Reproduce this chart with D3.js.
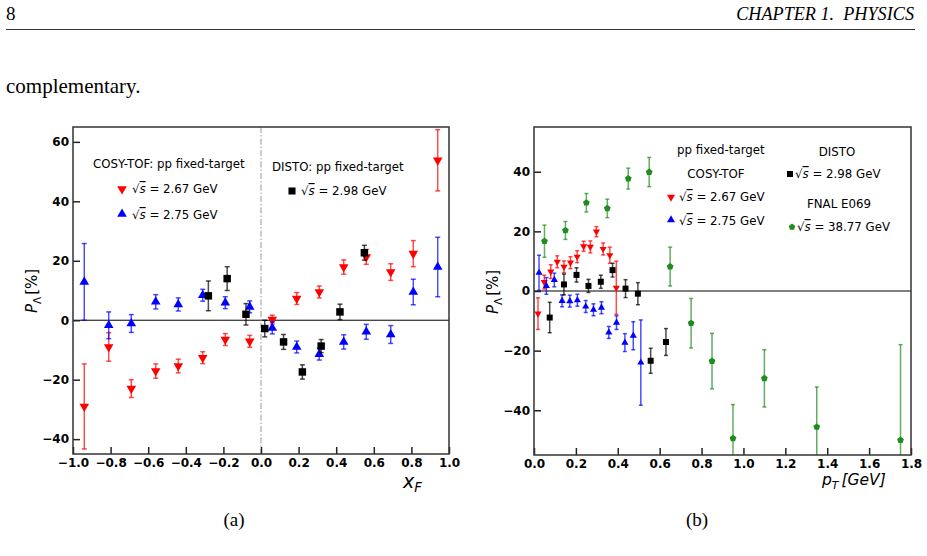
<!DOCTYPE html>
<html>
<head>
<meta charset="utf-8">
<script src="https://cdn.jsdelivr.net/npm/d3@7"></script>
<style>
  body { margin: 0; background: #fff; }
  svg { display: block; }
  text { font-family: "DejaVu Sans", sans-serif; fill: #000; }
  .serif { font-family: "Liberation Serif", "Times New Roman", serif; }
  .tick text { font-weight: bold; font-size: 12px; }
</style>
</head>
<body>
<div id="chart"></div>
<script>
// ---- panel (a): P_Lambda vs x_F ----
const xfTicks = [-1.0, -0.8, -0.6, -0.4, -0.2, 0.0, 0.2, 0.4, 0.6, 0.8, 1.0];
const polTicksA = [-40, -20, 0, 20, 40, 60];

const xfCosy = [-0.94, -0.81, -0.69, -0.56, -0.44, -0.31, -0.19, -0.06, 0.06, 0.19, 0.31, 0.44, 0.56, 0.69, 0.81, 0.94];
const polXfCosy267 = [-29, -9, -23, -17.1, -15.4, -12.6, -6.5, -7.1, 0.2, 7.3, 9.5, 17.9, 21.3, 16.2, 22.4, 53.8];
const errXfCosy267 = [14.3, 4.8, 3, 2.4, 2.3, 2, 2, 2, 1.5, 2, 2, 2.4, 2.5, 2.8, 4.4, 10.3];
const polXfCosy275 = [12.9, -1.7, -1.1, 6.2, 5.3, 8.4, 5.9, 4.5, -2.6, -9.0, -11.4, -7.3, -3.9, -4.8, 9.5, 17.9];
const errXfCosy275 = [12.9, 4.5, 3, 2.4, 2.2, 2, 2, 2, 2, 2, 2, 2.4, 2.5, 3, 4.3, 10];

const xfDisto = [-0.28, -0.18, -0.08, 0.02, 0.12, 0.22, 0.32, 0.42, 0.55];
const polXfDisto = [8.2, 14.0, 2.0, -2.8, -7.3, -17.4, -8.7, 2.8, 22.7];
const errXfDisto = [5, 4, 3.6, 2.8, 2.5, 2.4, 2.2, 2.6, 2.5];

// ---- panel (b): P_Lambda vs p_T ----
const ptTicks = [0.0, 0.2, 0.4, 0.6, 0.8, 1.0, 1.2, 1.4, 1.6, 1.8];
const polTicksB = [-40, -20, 0, 20, 40];

const ptCosy267 = [0.019, 0.049, 0.080, 0.111, 0.143, 0.174, 0.206, 0.237, 0.269, 0.298, 0.330, 0.362, 0.393];
const polPtCosy267 = [-7.6, 3.0, 6.5, 9.8, 8.1, 9.5, 11.5, 15.0, 14.8, 19.9, 14.1, 12.0, 1.1];
const errPtCosy267 = [5.3, 2.3, 2.3, 2, 2, 2, 2, 1.7, 2, 1.7, 2, 2.7, 8.9];

const ptCosy275 = [0.024, 0.059, 0.097, 0.134, 0.171, 0.207, 0.247, 0.284, 0.322, 0.357, 0.394, 0.434, 0.474, 0.51];
const polPtCosy275 = [6.1, 1.7, 3.7, -3.3, -3.4, -3.1, -5.2, -6.3, -5.6, -13.9, -10.6, -17.3, -15.0, -24.0];
const errPtCosy275 = [5.9, 2.8, 2.3, 2, 2, 2, 2, 2, 2, 2, 2.3, 3, 4.7, 14.3];

const ptDisto = [0.075, 0.143, 0.203, 0.26, 0.319, 0.375, 0.437, 0.496, 0.557, 0.63];
const polPtDisto = [-8.9, 2.2, 5.4, 1.7, 3.1, 7.0, 0.8, -0.9, -23.4, -17.1];
const errPtDisto = [5.1, 3.5, 2.4, 2.2, 2.2, 2.3, 3, 3.7, 4.2, 4.5];

const ptE069 = [0.05, 0.15, 0.25, 0.35, 0.45, 0.55, 0.65, 0.75, 0.85, 0.95, 1.10, 1.35, 1.75];
const polPtE069 = [16.7, 20.3, 29.6, 27.7, 37.7, 39.9, 8.2, -10.8, -23.5, -49.4, -29.3, -45.6, -50.0];
const errPtE069 = [5.4, 3, 3.1, 3.1, 3.5, 4.9, 6.5, 8.3, 9.3, 11.3, 9.6, 13.4, 32];

const red = '#ff0000', blue = '#0000ff', black = '#000000', green = '#1f8c1f';

// matplotlib-like pentagon marker
const symbolPentagon = {
  draw(ctx, size) {
    const r = Math.sqrt(size / 2.378);
    for (let i = 0; i < 5; i++) {
      const a = -Math.PI / 2 + i * 2 * Math.PI / 5;
      const px = r * Math.cos(a), py = r * Math.sin(a);
      if (i === 0) ctx.moveTo(px, py); else ctx.lineTo(px, py);
    }
    ctx.closePath();
  }
};

const zip = (xs, ys, es) => xs.map((x, i) => ({ x, y: ys[i], e: es[i] }));

const svg = d3.select('#chart').append('svg')
  .attr('width', 927)
  .attr('height', 556);

svg.append('rect').attr('width', 927).attr('height', 556).attr('fill', '#fff');

// page text around the figure
svg.append('text').attr('class', 'serif').attr('x', 6).attr('y', 20)
  .style('font-size', '19px').text('8');
svg.append('text').attr('class', 'serif').attr('x', 914).attr('y', 20)
  .attr('text-anchor', 'end').style('font-size', '18.2px').style('font-style', 'italic')
  .style('white-space', 'pre').text('CHAPTER 1.  PHYSICS');
svg.append('line').attr('x1', 6).attr('x2', 915).attr('y1', 29.5).attr('y2', 29.5)
  .attr('stroke', '#000').attr('stroke-width', 0.8);
svg.append('text').attr('class', 'serif').attr('x', 6).attr('y', 93)
  .style('font-size', '21px').text('complementary.');
svg.append('text').attr('class', 'serif').attr('x', 234).attr('y', 526)
  .attr('text-anchor', 'middle').style('font-size', '19px').text('(a)');
svg.append('text').attr('class', 'serif').attr('x', 697).attr('y', 526)
  .attr('text-anchor', 'middle').style('font-size', '19px').text('(b)');

function sqrtS(sel, value) {
  sel.append('tspan').text('√');
  sel.append('tspan').style('font-style', 'italic').style('text-decoration', 'overline').text('s');
  sel.append('tspan').text(` = ${value} GeV`);
}

function drawPanel(cfg) {
  const { left, right, top, bottom } = cfg;
  const x = d3.scaleLinear().domain(cfg.xDomain).range([left, right]);
  const y = d3.scaleLinear().domain(cfg.yDomain).range([bottom, top]);
  const g = svg.append('g');

  const clipId = 'clip-' + cfg.name;
  svg.append('clipPath').attr('id', clipId)
    .append('rect').attr('x', left).attr('y', top).attr('width', right - left).attr('height', bottom - top);

  const plot = g.append('g').attr('clip-path', `url(#${clipId})`);

  // reference lines
  plot.append('line')
    .attr('x1', left).attr('x2', right).attr('y1', y(0)).attr('y2', y(0))
    .attr('stroke', '#000').attr('stroke-width', 1);
  if (cfg.zeroVertical) {
    plot.append('line')
      .attr('x1', x(0)).attr('x2', x(0)).attr('y1', top).attr('y2', bottom)
      .attr('stroke', '#aaa').attr('stroke-width', 1.2)
      .attr('stroke-dasharray', '6,2,1.5,2');
  }

  // series
  cfg.series.forEach(s => {
    const sg = plot.append('g');
    const cap = cfg.cap;
    const eb = sg.selectAll('g.eb').data(s.data).join('g')
      .attr('stroke', s.color).attr('stroke-opacity', 0.7).attr('stroke-width', 1.5);
    eb.append('line')
      .attr('x1', d => x(d.x)).attr('x2', d => x(d.x))
      .attr('y1', d => y(d.y - d.e)).attr('y2', d => y(d.y + d.e));
    eb.append('line')
      .attr('x1', d => x(d.x) - cap).attr('x2', d => x(d.x) + cap)
      .attr('y1', d => y(d.y + d.e)).attr('y2', d => y(d.y + d.e));
    eb.append('line')
      .attr('x1', d => x(d.x) - cap).attr('x2', d => x(d.x) + cap)
      .attr('y1', d => y(d.y - d.e)).attr('y2', d => y(d.y - d.e));

    const sym = d3.symbol().type(s.type).size(s.size);
    sg.selectAll('path.mk').data(s.data).join('path')
      .attr('d', sym)
      .attr('fill', s.color)
      .attr('transform', d => `translate(${x(d.x)},${y(d.y)})${s.rotate ? ' rotate(180)' : ''}`);
  });

  // axes with inward ticks
  const xAxis = g.append('g').attr('transform', `translate(0,${bottom})`)
    .call(d3.axisBottom(x).tickValues(cfg.xTicks).tickFormat(d3.format('.1f'))
      .tickSizeInner(-7).tickSizeOuter(0).tickPadding(4));
  const yAxis = g.append('g').attr('transform', `translate(${left},0)`)
    .call(d3.axisLeft(y).tickValues(cfg.yTicks).tickFormat(d3.format('d'))
      .tickSizeInner(-7).tickSizeOuter(0).tickPadding(4));
  [xAxis, yAxis].forEach(a => {
    a.select('.domain').remove();
    a.selectAll('.tick line').attr('stroke', '#222').attr('stroke-width', 1.5);
    a.selectAll('.tick text').attr('fill', '#000');
  });

  // frame
  g.append('rect')
    .attr('x', left).attr('y', top).attr('width', right - left).attr('height', bottom - top)
    .attr('fill', 'none').attr('stroke', '#333').attr('stroke-width', 1.5);

  // axis labels
  const xl = g.append('text').attr('x', cfg.xLabelX).attr('y', cfg.xLabelY)
    .style('font-size', cfg.xLabelSize).style('font-style', 'italic');
  xl.append('tspan').text(cfg.xLabel[0]);
  xl.append('tspan').attr('dy', 4).style('font-size', '0.7em').text(cfg.xLabel[1]);
  if (cfg.xLabel[2]) xl.append('tspan').attr('dy', -4).attr('dx', 3).text(cfg.xLabel[2]);

  const yl = g.append('text')
    .attr('transform', `translate(${cfg.yLabelX},${cfg.yLabelY}) rotate(-90)`)
    .attr('text-anchor', 'middle').style('font-size', '15px');
  yl.append('tspan').style('font-style', 'italic').text('P');
  yl.append('tspan').attr('dy', 4).style('font-size', '0.7em').text('Λ');
  yl.append('tspan').attr('dy', -4).attr('dx', 2).text('[%]');

  return { g, symbols: cfg.series };
}

const seriesA = [
  { data: zip(xfCosy, polXfCosy267, errXfCosy267), color: red, type: d3.symbolTriangle, size: 40, rotate: true },
  { data: zip(xfCosy, polXfCosy275, errXfCosy275), color: blue, type: d3.symbolTriangle, size: 40 },
  { data: zip(xfDisto, polXfDisto, errXfDisto), color: black, type: d3.symbolSquare, size: 56 }
];
const panelA = drawPanel({
  name: 'a', left: 73, right: 449, top: 127, bottom: 454,
  xDomain: [-1, 1], yDomain: [-45, 65], xTicks: xfTicks, yTicks: polTicksA,
  zeroVertical: true, cap: 2.5, series: seriesA,
  xLabel: ['x', 'F'], xLabelX: 403, xLabelY: 488, xLabelSize: '19px', yLabelX: 37, yLabelY: 291
});

const seriesB = [
  { data: zip(ptE069, polPtE069, errPtE069), color: green, type: symbolPentagon, size: 30 },
  { data: zip(ptCosy267, polPtCosy267, errPtCosy267), color: red, type: d3.symbolTriangle, size: 22, rotate: true },
  { data: zip(ptCosy275, polPtCosy275, errPtCosy275), color: blue, type: d3.symbolTriangle, size: 22 },
  { data: zip(ptDisto, polPtDisto, errPtDisto), color: black, type: d3.symbolSquare, size: 36 }
];
const panelB = drawPanel({
  name: 'b', left: 534, right: 911, top: 127, bottom: 455,
  xDomain: [0, 1.8], yDomain: [-55, 55], xTicks: ptTicks, yTicks: polTicksB,
  zeroVertical: false, cap: 2, series: seriesB,
  xLabel: ['p', 'T', '[GeV]'], xLabelX: 822, xLabelY: 485, xLabelSize: '15.5px', yLabelX: 498, yLabelY: 292
});

// legends
function marker(g, type, size, color, cx, cy, rotate) {
  g.append('path').attr('d', d3.symbol().type(type).size(size)())
    .attr('fill', color)
    .attr('transform', `translate(${cx},${cy})${rotate ? ' rotate(180)' : ''}`);
}
function label(g, x, y, anchor) {
  return g.append('text').attr('x', x).attr('y', y).attr('text-anchor', anchor || 'start')
    .style('font-size', '11.8px');
}

const la = panelA.g;
label(la, 93, 168).text('COSY-TOF: pp fixed-target');
marker(la, d3.symbolTriangle, 40, red, 122, 189, true);
label(la, 132, 193).call(sqrtS, '2.67');
marker(la, d3.symbolTriangle, 40, blue, 122, 214);
label(la, 132, 219).call(sqrtS, '2.75');
label(la, 272, 171).text('DISTO: pp fixed-target');
marker(la, d3.symbolSquare, 50, black, 292, 191);
label(la, 301, 195).call(sqrtS, '2.98');

const lb = panelB.g;
label(lb, 677, 154).text('pp fixed-target');
label(lb, 716, 178, 'middle').text('COSY-TOF');
marker(lb, d3.symbolTriangle, 28, red, 671, 197, true);
label(lb, 679, 201).call(sqrtS, '2.67');
marker(lb, d3.symbolTriangle, 28, blue, 671, 220);
label(lb, 679, 225).call(sqrtS, '2.75');
label(lb, 837, 156, 'middle').text('DISTO');
marker(lb, d3.symbolSquare, 36, black, 790, 174);
label(lb, 795, 178).call(sqrtS, '2.98');
label(lb, 839, 208, 'middle').text('FNAL E069');
marker(lb, symbolPentagon, 28, green, 792, 227);
label(lb, 797, 231).call(sqrtS, '38.77');
</script>
</body>
</html>
